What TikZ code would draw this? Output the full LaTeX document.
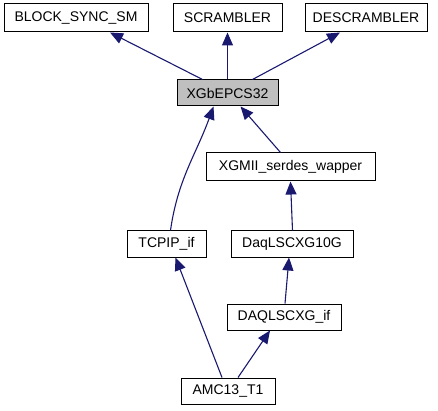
\documentclass[tikz,border=0pt]{standalone}
\usepackage{fontspec}
\setmainfont{Liberation Sans}
\usetikzlibrary{arrows.meta}
\definecolor{edgeblue}{HTML}{191970}
\definecolor{boxgray}{HTML}{BFBFBF}
\begin{document}
\begin{tikzpicture}[x=1pt,y=-1pt,
        cls/.style={draw=black,fill=white,line width=1pt,inner sep=0pt,
                    minimum height=26pt,font=\fontsize{14}{16}\selectfont},
        dep/.style={draw=edgeblue,line width=1.1pt,
                    -{Triangle[length=13pt,width=11pt]}}]
        \useasboundingbox (0,0) rectangle (438,411);
        \begin{scope}[every node/.style={cls}]
            \node (blk) at (76,18) [minimum width=144pt,minimum height=28pt]{BLOCK\_SYNC\_SM};
            \node (scr) at (227.5,18) [minimum width=109pt,minimum height=28pt]{SCRAMBLER};
            \node (des) at (366,18) [minimum width=122pt,minimum height=28pt]{DESCRAMBLER};
            \node (pcs) at (227.5,93) [minimum width=101pt,fill=boxgray]{XGbEPCS32};
            \node (xgm) at (290.5,167) [minimum width=169pt,minimum height=28pt]{XGMII\_serdes\_wapper};
            \node (tcp) at (166.5,244) [minimum width=79pt]{TCPIP\_if};
            \node (daq) at (292,244) [minimum width=122pt]{DaqLSCXG10G};
            \node (dif) at (284,317) [minimum width=114pt]{DAQLSCXG\_if};
            \node (amc) at (228,391) [minimum width=94pt]{AMC13\_T1};
        \end{scope}

        \path ([xshift=-25pt]pcs.north) edge[dep] ([xshift=34pt]blk.south);
        \path (pcs.north) edge[dep] (scr.south);
        \path ([xshift=25pt]pcs.north) edge[dep] ([xshift=-26pt]des.south);
        \path ([xshift=4pt]tcp.north) edge[dep,out=82,in=-110] ([xshift=-14pt]pcs.south);
        \path ([xshift=-10pt]xgm.north) edge[dep] ([xshift=13pt]pcs.south);
        \path ([xshift=0.5pt]daq.north) edge[dep] (xgm.south);
        \path ([xshift=1pt]dif.north) edge[dep] ([xshift=-3pt]daq.south);
        \path ([xshift=-6pt]amc.north) edge[dep] ([xshift=9pt]tcp.south);
        \path ([xshift=10pt]amc.north) edge[dep] ([xshift=-14pt]dif.south);
    \end{tikzpicture}
\end{document}
